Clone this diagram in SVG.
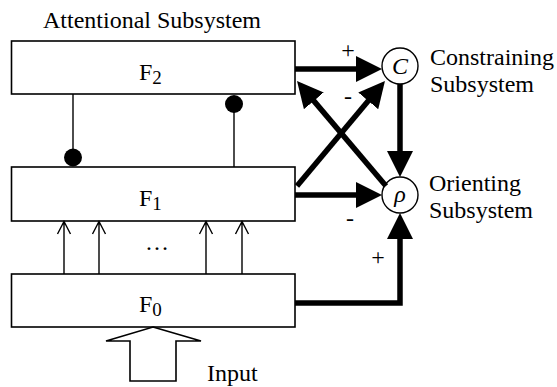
<svg xmlns="http://www.w3.org/2000/svg" width="557" height="387" viewBox="0 0 557 387">
<style>
text{font-family:"Liberation Serif","Times New Roman",serif;fill:#000}
.lbl{font-size:24px}
.sub{font-size:19px}
.box{fill:#fff;stroke:#000;stroke-width:1.6}
.circ{fill:#fff;stroke:#000;stroke-width:1.4}
.thin{fill:none;stroke:#000;stroke-width:1.4}
.thick{fill:none;stroke:#000;stroke-width:5.5;stroke-linejoin:miter}
.sign{font-size:24px;text-anchor:middle}
</style>
<defs>
<marker id="ah" markerUnits="userSpaceOnUse" markerWidth="26" markerHeight="26" refX="20" refY="13" orient="auto">
<path d="M0,0 L26,13 L0,26 z" fill="#000"/>
</marker>
</defs>
<text class="lbl" x="43" y="28">Attentional Subsystem</text>
<g id="F2">
<rect class="box" x="11.5" y="41" width="283.5" height="53"/>
<text class="lbl" x="139" y="80">F<tspan class="sub" dy="4">2</tspan></text>
</g>
<g id="F1">
<rect class="box" x="11.5" y="167" width="283.5" height="54"/>
<text class="lbl" x="139" y="206">F<tspan class="sub" dy="4">1</tspan></text>
</g>
<g id="F0">
<rect class="box" x="11.5" y="274" width="283.5" height="53"/>
<text class="lbl" x="139" y="312">F<tspan class="sub" dy="4">0</tspan></text>
</g>
<g id="C">
<circle class="circ" cx="400" cy="66" r="18"/>
<text class="lbl" x="400" y="74" text-anchor="middle" font-style="italic">C</text>
<text class="lbl" x="430" y="65">Constraining</text>
<text class="lbl" x="430" y="92">Subsystem</text>
</g>
<g id="rho">
<circle class="circ" cx="400" cy="195" r="18"/>
<text class="lbl" x="400" y="202" text-anchor="middle" font-style="italic">ρ</text>
<text class="lbl" x="429" y="191">Orienting</text>
<text class="lbl" x="429" y="218">Subsystem</text>
</g>
<g id="input">
<polygon class="box" points="153,327 201,341 176,341 176,381 130,381 130,341 106,341"/>
<text class="lbl" x="207" y="381">Input</text>
</g>
<g id="connectors">
<line class="thin" x1="73" y1="94" x2="73" y2="157"/>
<circle cx="73" cy="157.5" r="9" fill="#000"/>
<line class="thin" x1="234" y1="104" x2="234" y2="167"/>
<circle cx="234" cy="104" r="9" fill="#000"/>
<path class="thin" d="M64,274 V221.5 M57.5,234 L64,221.5 L70.5,234"/>
<path class="thin" d="M99,274 V221.5 M92.5,234 L99,221.5 L105.5,234"/>
<path class="thin" d="M206,274 V221.5 M199.5,234 L206,221.5 L212.5,234"/>
<path class="thin" d="M242,274 V221.5 M235.5,234 L242,221.5 L248.5,234"/>
<text class="lbl" x="157" y="250" text-anchor="middle">…</text>
<line class="thick" x1="295" y1="69" x2="376" y2="69" marker-end="url(#ah)"/>
<line class="thick" x1="400" y1="84" x2="400" y2="171" marker-end="url(#ah)"/>
<line class="thick" x1="295" y1="195" x2="376" y2="195" marker-end="url(#ah)"/>
<path class="thick" d="M295,303 H400 V219" marker-end="url(#ah)"/>
<line class="thick" x1="297" y1="186" x2="381.1" y2="85.6" marker-end="url(#ah)"/>
<line class="thick" x1="386" y1="186" x2="300.9" y2="85.6" marker-end="url(#ah)"/>
<text class="sign" x="348" y="58">+</text>
<text class="sign" x="348" y="104">-</text>
<text class="sign" x="350" y="226">-</text>
<text class="sign" x="378" y="265">+</text>
</g>
</svg>
